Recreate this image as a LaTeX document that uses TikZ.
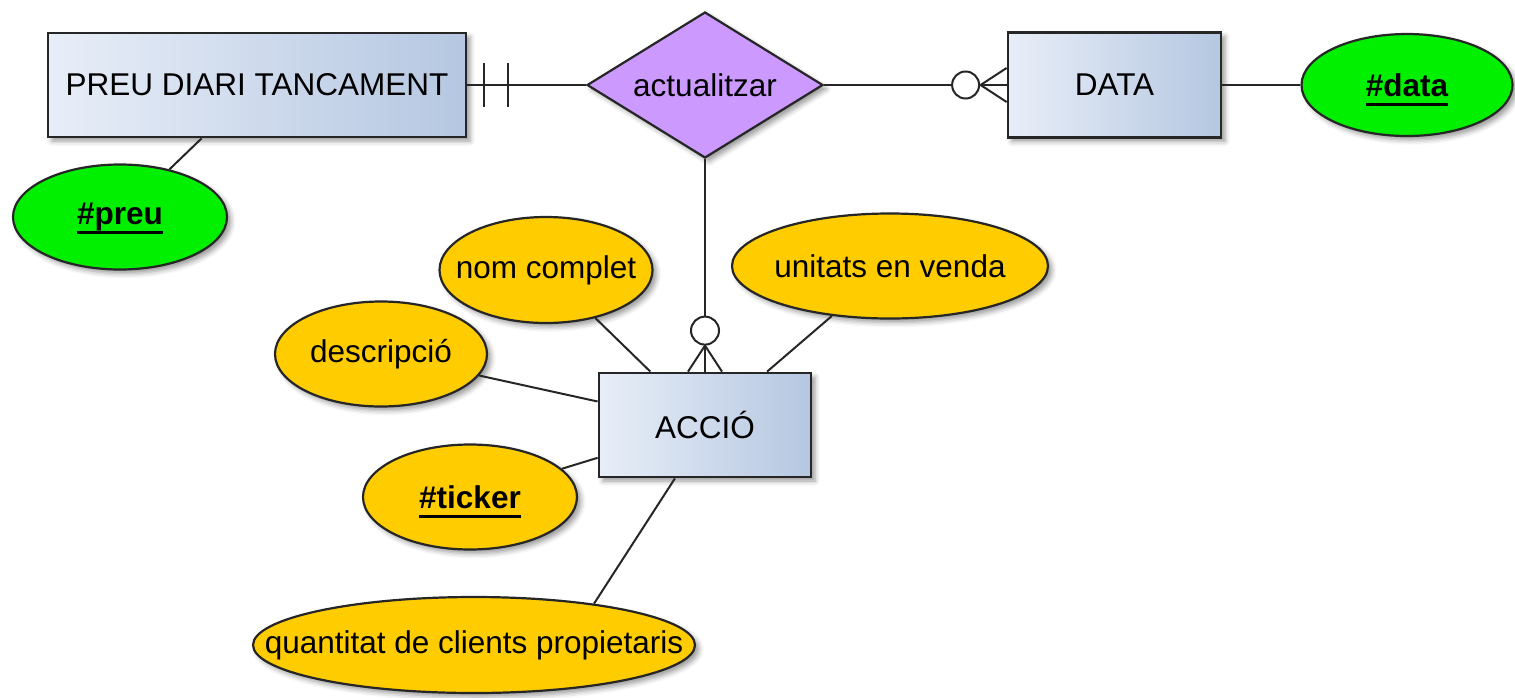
\documentclass[tikz,border=0pt]{standalone}
\usepackage{fontspec}
\setmainfont{Liberation Sans}
\usetikzlibrary{shapes.geometric,shadows.blur,calc}
\definecolor{entL}{HTML}{E8EEF8}
\definecolor{entR}{HTML}{B5C7E1}
\definecolor{relC}{HTML}{CC99FF}
\definecolor{attY}{HTML}{FFCC00}
\definecolor{keyG}{HTML}{00F000}
\newlength{\kulen}
\newcommand{\keyu}[1]{\settowidth{\kulen}{\bfseries #1}{\bfseries #1}\hspace{-\kulen}\smash{\rule[-9.5pt]{\kulen}{2.8pt}}}
\newcommand{\ztxt}[1]{\makebox[0pt]{#1}}
\begin{document}
\begin{tikzpicture}[x=1pt,y=-1pt,
  every node/.style={font=\fontsize{31.5}{36}\selectfont},
  shad/.style={blur shadow={shadow xshift=4pt,shadow yshift=-4pt,shadow blur radius=5pt,shadow opacity=40}},
  entity/.style={rectangle,draw=black!85,line width=2.8pt,left color=entL,right color=entR,inner sep=0pt,shad},
  rel/.style={diamond,draw=black!85,line width=2.2pt,fill=relC,inner sep=0pt,shape aspect=1.616,minimum width=236pt,minimum height=146pt,shad},
  attr/.style={ellipse,draw=black!85,line width=2.2pt,fill=attY,inner sep=0pt,shad},
  keyattr/.style={attr,fill=keyG},
  conn/.style={line width=2pt,draw=black!85}]
\useasboundingbox (0,0) rectangle (1515,697);

% entities and relationship
\node[entity,minimum width=418pt,minimum height=104pt] (pdt) at (257,85) {PREU DIARI TANCAMENT};
\node[entity,minimum width=213pt,minimum height=105pt] (data) at (1114.5,85) {DATA};
\node[entity,minimum width=212pt,minimum height=104pt] (acc) at (705,425) {ACCIÓ};
\node[rel] (act) at (705,85) {actualitzar};

% attributes
\node[keyattr,minimum width=211pt,minimum height=102pt] (kdata) at (1407,85) {\ztxt{\keyu{\#data}}};
\node[keyattr,minimum width=214pt,minimum height=105pt] (kpreu) at (120,217) {\ztxt{\keyu{\#preu}}};
\node[attr,minimum width=213pt,minimum height=106pt] (nom) at (546,270) {\ztxt{nom complet}};
\node[attr,minimum width=212pt,minimum height=105pt] (desc) at (381,354) {\ztxt{descripció}};
\node[attr,minimum width=316pt,minimum height=105pt] (unit) at (890,266) {\ztxt{unitats en venda}};
\node[attr,minimum width=214pt,minimum height=105pt] (tick) at (470,497) {\ztxt{\keyu{\#ticker}}};
\node[attr,minimum width=442pt,minimum height=96pt] (quant) at (474,645) {\ztxt{quantitat de clients propietaris}};

% connectors
\draw[conn] (pdt) -- (kpreu);
\draw[conn] (data) -- (kdata);
\draw[conn] (nom) -- (acc);
\draw[conn] (desc) -- (acc);
\draw[conn] (unit) -- (acc);
\draw[conn] (tick) -- (acc);
\draw[conn] (quant.19) -- ($(acc.south west)!0.36!(acc.south east)$);

% PREU -- actualitzar (one and only one)
\draw[conn] (pdt.east) -- (act.west);
\draw[conn] ($(pdt.east)+(17,-22)$) -- ($(pdt.east)+(17,22)$);
\draw[conn] ($(pdt.east)+(41,-22)$) -- ($(pdt.east)+(41,22)$);

% actualitzar -- DATA (zero or many)
\draw[conn] (act.east) -- (data.west);
\draw[conn] ($(data.west)+(-26,0)$) -- ($(data.west)+(0,-17)$);
\draw[conn] ($(data.west)+(-26,0)$) -- ($(data.west)+(0,17)$);
\draw[conn,fill=white] ($(data.west)+(-41,0)$) circle[radius=13.5];

% actualitzar -- ACCIO (zero or many)
\draw[conn] (act.south) -- (acc.north);
\draw[conn] ($(acc.north)+(0,-26)$) -- ($(acc.north)+(-17,0)$);
\draw[conn] ($(acc.north)+(0,-26)$) -- ($(acc.north)+(17,0)$);
\draw[conn,fill=white] ($(acc.north)+(0,-41)$) circle[radius=14];
\end{tikzpicture}
\end{document}
